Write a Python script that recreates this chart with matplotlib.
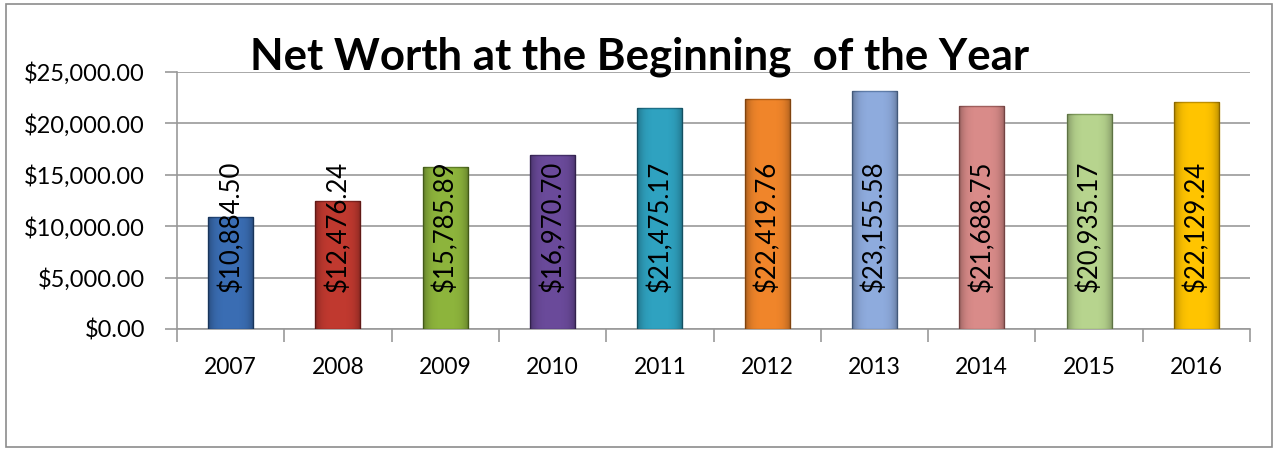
import matplotlib
matplotlib.use("Agg")
import matplotlib.pyplot as plt
import matplotlib.ticker as ticker
import numpy as np
from matplotlib.patches import Rectangle

plt.rcParams["font.family"] = ["Lato", "DejaVu Sans"]

years = ["2007", "2008", "2009", "2010", "2011", "2012", "2013", "2014", "2015", "2016"]
net_worth = [10884.50, 12476.24, 15785.89, 16970.70, 21475.17,
             22419.76, 23155.58, 21688.75, 20935.17, 22129.24]
bar_colors = ["#3A6DB3", "#C0392F", "#8DB43C", "#6A4A9A", "#2FA2C0",
              "#F0852A", "#8EABDD", "#D98B89", "#B7D48E", "#FFC400"]
edge_colors = ["#23497D", "#862420", "#5E7D25", "#45306A", "#1E7088",
               "#B25E16", "#5F7DAA", "#A05F5D", "#83A05E", "#C09000"]

GRID = "#999999"

fig = plt.figure(figsize=(12.77, 4.49), dpi=100)
fig.patch.set_facecolor("white")
fig.patches.append(Rectangle((6 / 1277, 2 / 449), 1266 / 1277, 443 / 449,
                             transform=fig.transFigure, fill=False,
                             edgecolor="#8C8C8C", linewidth=1.2))

ax = fig.add_axes([177 / 1277, 1 - 329 / 449, 1073 / 1277, 257 / 449])
x = list(range(len(years)))
bars = ax.bar(x, net_worth, width=0.42, color=bar_colors, edgecolor=edge_colors,
              linewidth=1.0, zorder=3)

# soft bevel: darker sides, clipped to each bar
t = np.abs(np.linspace(-1, 1, 64)) ** 4
shade = np.zeros((1, 64, 4))
shade[0, :, 3] = 0.30 * t
for b in bars:
    x0, w, h = b.get_x(), b.get_width(), b.get_height()
    im = ax.imshow(shade, aspect="auto", extent=(x0, x0 + w, 0, h),
                   zorder=3.5, interpolation="bilinear")
    im.set_clip_path(b)

for xi, v in zip(x, net_worth):
    ax.text(xi, 10000, f"${v:,.2f}", rotation=90, ha="center", va="center",
            fontsize=18.5, color="black", zorder=4)

ax.set_xlim(-0.5, len(years) - 0.5)
ax.set_ylim(0, 25000)
ax.yaxis.set_major_locator(ticker.MultipleLocator(5000))
ax.yaxis.set_major_formatter(ticker.FuncFormatter(lambda v, _: f"${v:,.2f}"))
ax.set_xticks(x)
ax.set_xticklabels(years)
ax.set_xticks([i - 0.5 for i in range(len(years) + 1)], minor=True)
ax.tick_params(axis="x", which="major", length=0, pad=20, labelsize=16.5)
ax.tick_params(axis="x", which="minor", length=9, color=GRID, width=1.2)
ax.tick_params(axis="y", length=9, color=GRID, width=1.2, labelsize=17, pad=14)
ax.grid(axis="y", color=GRID, linewidth=1.2, zorder=0)
ax.set_axisbelow(True)
for side in ("top", "right"):
    ax.spines[side].set_visible(False)
for side in ("left", "bottom"):
    ax.spines[side].set_color(GRID)
    ax.spines[side].set_linewidth(1.2)

fig.text(640 / 1277, 1 - 57 / 449, "Net Worth at the Beginning  of the Year",
         ha="center", va="center", fontsize=31.5, fontweight="bold", color="black")

fig.savefig("out.png", dpi=100, facecolor="white")
